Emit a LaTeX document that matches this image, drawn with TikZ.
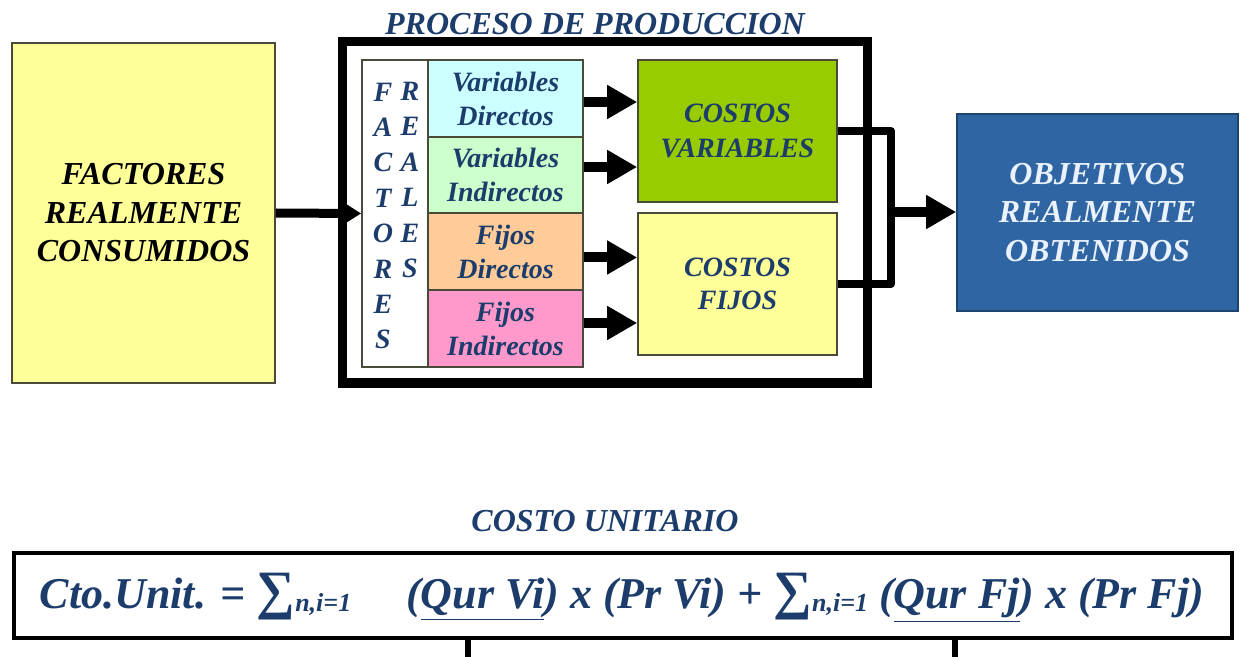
\documentclass[tikz,border=0pt]{standalone}
\usepackage{fontspec}
\setmainfont{Liberation Serif}
\usetikzlibrary{arrows.meta,fit,calc}
\definecolor{pale}{HTML}{FFFF99}
\definecolor{objblue}{HTML}{2E65A2}
\definecolor{objline}{HTML}{1D4470}
\definecolor{cvgreen}{HTML}{99CC00}
\definecolor{vdcol}{HTML}{CCFFFF}
\definecolor{vicol}{HTML}{CCFFCC}
\definecolor{fdcol}{HTML}{FFCC99}
\definecolor{ficol}{HTML}{FF99CC}
\definecolor{navy}{HTML}{1C3D6B}
\definecolor{boxline}{HTML}{4A4A3A}
\definecolor{objtext}{HTML}{EAF2FF}
\newcommand{\sumsub}{{\fontsize{27}{27}\selectfont ∑}\raisebox{-1.5pt}{\fontsize{13}{13}\selectfont n,i=1}}
\begin{document}
\begin{tikzpicture}[x=0.5pt,y=-0.5pt,
  box/.style={draw=boxline, line width=0.8pt, inner sep=0pt, align=center, font=\bfseries\itshape},
  big/.style={font=\bfseries\itshape\fontsize{16}{19.25}\selectfont},
  mid/.style={font=\bfseries\itshape\fontsize{14}{17}\selectfont},
  letters/.style={align=center, inner sep=0pt, text=navy, font=\bfseries\itshape\fontsize{14}{17.7}\selectfont},
  colbox/.style={box, minimum width=77.5pt, minimum height=38.5pt, mid, text=navy},
  costbox/.style={box, minimum width=99.5pt, minimum height=71pt, text=navy},
  bigarrow/.style={line width=5pt, -{Triangle[length=15pt,width=16pt]}},
  thickline/.style={line width=4pt, line join=round}]
\useasboundingbox (0,0) rectangle (1241,657);
\fill[white] (0,0) rectangle (1241,657);
% left box
\node[box, fill=pale, minimum width=131.5pt, minimum height=170pt, big, text=black] (fac) at (143.5,213) {FACTORES\\REALMENTE\\CONSUMIDOS};
% frame
\node[draw=black, line width=4.5pt, inner sep=0pt, fit={(342,42) (867,383)}] (frame) {};
\node[font=\bfseries\itshape\fontsize{16}{19}\selectfont, text=navy] (title) at (595,24) {PROCESO DE PRODUCCION};
% factores reales column
\node[box, fill=white, minimum width=33pt, minimum height=153.5pt] (col) at (395,213.5) {};
\node[letters] (colL) at (383,216) {F\\A\\C\\T\\O\\R\\E\\S};
\node[letters] (colR) at (410,180) {R\\E\\A\\L\\E\\S};
% coloured boxes
\node[colbox, fill=vdcol] (vd) at (505.5,98.5) {Variables\\Directos};
\node[colbox, fill=vicol, minimum height=38pt] (vi) at (505.5,175) {Variables\\Indirectos};
\node[colbox, fill=fdcol] (fd) at (505.5,251.5) {Fijos\\Directos};
\node[colbox, fill=ficol] (fi) at (505.5,328.5) {Fijos\\Indirectos};
% costos
\node[costbox, fill=cvgreen, font=\bfseries\itshape\fontsize{14}{17.5}\selectfont] (cv) at (737.5,131) {COSTOS\\VARIABLES};
\node[costbox, fill=pale, font=\bfseries\itshape\fontsize{14}{16.5}\selectfont] (cf) at (737.5,284) {COSTOS\\FIJOS};
% objetivos
\node[box, draw=objline, fill=objblue, minimum width=140.5pt, minimum height=98.5pt, big, text=objtext] (obj) at (1097.5,212.5) {OBJETIVOS\\REALMENTE\\OBTENIDOS};
% arrows
\draw[line width=4.5pt, -{Triangle[length=11pt,width=13pt]}] (fac.east) -- (col.west);
\draw[bigarrow] ([yshift=-1.75pt]vd.east) -- ([yshift=-1.75pt]vd.east -| cv.west);
\draw[bigarrow] ([yshift=4pt]vi.east) -- ([yshift=4pt]vi.east -| cv.west);
\draw[bigarrow] ([yshift=-3pt]fd.east) -- ([yshift=-3pt]fd.east -| cf.west);
\draw[bigarrow] ([yshift=2.75pt]fi.east) -- ([yshift=2.75pt]fi.east -| cf.west);
\coordinate (br) at (891,212);
\draw[thickline] (cv.east) -| (br) |- (cf.east);
\draw[bigarrow] (br) -- (br -| obj.west);
% costo unitario
\node[font=\bfseries\itshape\fontsize{16}{19}\selectfont, text=navy] (ct) at (605,521) {COSTO UNITARIO};
\node[draw=black, line width=2pt, inner sep=0pt, fit={(14,553) (1232,638)}] (fbox) {};
\node[font=\bfseries\itshape\fontsize{22}{26}\selectfont, text=navy] (formula) at (622,598)
 {Cto.Unit. = \sumsub\quad\ (\underline{Qur Vi}) x (Pr Vi) + \sumsub{} (\underline{Qur Fj}) x (Pr Fj)};
\coordinate (s1) at (468,657);
\coordinate (s2) at (955,657);
\draw[line width=3pt] (s1 |- fbox.south) -- (s1);
\draw[line width=3pt] (s2 |- fbox.south) -- (s2);
\end{tikzpicture}
\end{document}
